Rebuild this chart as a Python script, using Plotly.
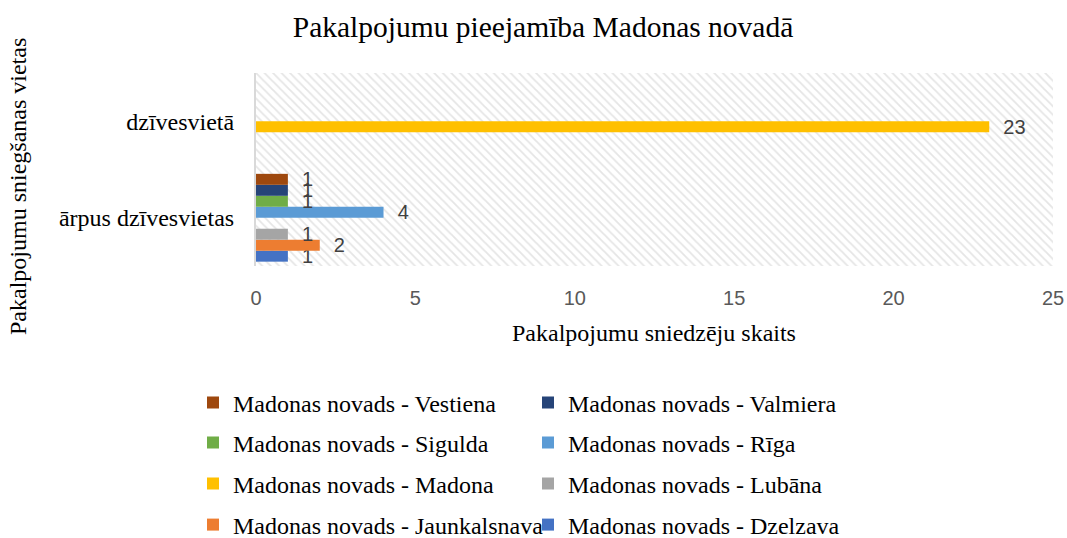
import plotly.graph_objects as go

# ---- data ----
categories = ["ārpus dzīvesvietas", "dzīvesvietā"]
series_names = [
    "Madonas novads - Dzelzava",
    "Madonas novads - Jaunkalsnava",
    "Madonas novads - Lubāna",
    "Madonas novads - Madona",
    "Madonas novads - Rīga",
    "Madonas novads - Sigulda",
    "Madonas novads - Valmiera",
    "Madonas novads - Vestiena",
]
dzelzava = [1, None]
jaunkalsnava = [2, None]
lubana = [1, None]
madona = [None, 23]
riga = [4, None]
sigulda = [1, None]
valmiera = [1, None]
vestiena = [1, None]
series_values = [dzelzava, jaunkalsnava, lubana, madona, riga, sigulda, valmiera, vestiena]
x_ticks = [0, 5, 10, 15, 20, 25]

# ---- style ----
colors = ["#4472C4", "#ED7D31", "#A5A5A5", "#FFC000", "#5B9BD5", "#70AD47", "#264478", "#9E480E"]
legend_ids = ["legend4", "legend4", "legend3", "legend3", "legend2", "legend2", "legend", "legend"]
SERIF = "Liberation Serif, Times New Roman, serif"
SANS = "Liberation Sans, Arial, sans-serif"

W, H = 1067, 538
L, R, T, B = 256, 14, 73, 272
ph = H - T - B
pw = W - L - R


def py(pix):
    return (H - B - pix) / ph


def px(pix):
    return (pix - L) / pw


fig = go.Figure()

# hatched plot-area background (decoration)
fig.add_trace(go.Bar(
    x=[0.5], y=[1], width=[1], base=[0], xaxis="x", yaxis="y",
    marker=dict(color="white", line=dict(width=0),
                pattern=dict(shape="\\", fgcolor="#cccccc", bgcolor="white", size=6, solidity=0.3)),
    showlegend=False, hoverinfo="skip",
))

for name, vals, col, lg in zip(series_names, series_values, colors, legend_ids):
    fig.add_trace(go.Bar(
        name=name, y=categories, x=vals, orientation="h",
        xaxis="x2", yaxis="y2",
        marker=dict(color=col, line=dict(width=0)),
        texttemplate="\u00a0\u00a0%{x}", textposition="outside",
        textfont=dict(family=SANS, size=20, color="#404040"),
        cliponaxis=False, constraintext="none",
        legend=lg,
    ))

legend_rows_y = [403, 443, 484, 525]
legend_common = dict(orientation="h", traceorder="reversed", entrywidth=290, entrywidthmode="pixels",
                     font=dict(family=SERIF, size=24, color="#000000"),
                     xanchor="left", yanchor="middle", x=px(193), bgcolor="rgba(0,0,0,0)")

fig.update_layout(
    width=W, height=H,
    margin=dict(l=L, r=R, t=T, b=B, autoexpand=False),
    paper_bgcolor="white", plot_bgcolor="white",
    barmode="group", bargap=0.09, bargroupgap=0,
    title=dict(text="Pakalpojumu pieejamība Madonas novadā", x=543 / W, xanchor="center",
               xref="container", yref="container", y=1 - 27 / H, yanchor="middle",
               font=dict(family=SERIF, size=29.5, color="#000000")),
    xaxis=dict(range=[0, 1], visible=False, fixedrange=True),
    yaxis=dict(range=[0, 1], visible=False, fixedrange=True),
    xaxis2=dict(overlaying="x", anchor="y2", side="bottom", range=[0, 25], tickvals=x_ticks,
                showgrid=False, zeroline=False, showline=False, ticks="",
                ticklabelstandoff=18,
                tickfont=dict(family=SANS, size=20, color="#595959")),
    yaxis2=dict(overlaying="y", anchor="x2", side="left", type="category", categoryarray=categories,
                showgrid=False, zeroline=False, showline=True, linecolor="#d9d9d9", linewidth=2,
                ticks="", ticklabelstandoff=15,
                tickfont=dict(family=SERIF, size=24, color="#000000")),
    legend=dict(legend_common, y=py(legend_rows_y[0])),
    legend2=dict(legend_common, y=py(legend_rows_y[1])),
    legend3=dict(legend_common, y=py(legend_rows_y[2])),
    legend4=dict(legend_common, y=py(legend_rows_y[3])),
    annotations=[
        dict(text="Pakalpojumu sniegšanas vietas", textangle=-90, xref="paper", yref="paper",
             x=px(18), y=py(187), xanchor="center", yanchor="middle", showarrow=False,
             font=dict(family=SERIF, size=24, color="#000000")),
        dict(text="Pakalpojumu sniedzēju skaits", xref="paper", yref="paper",
             x=px(654), y=py(333), xanchor="center", yanchor="middle", showarrow=False,
             font=dict(family=SERIF, size=24, color="#000000")),
    ],
    showlegend=True,
)

fig.write_html("out.html", config={"displayModeBar": False},
               post_script="document.body.style.margin='0';")
